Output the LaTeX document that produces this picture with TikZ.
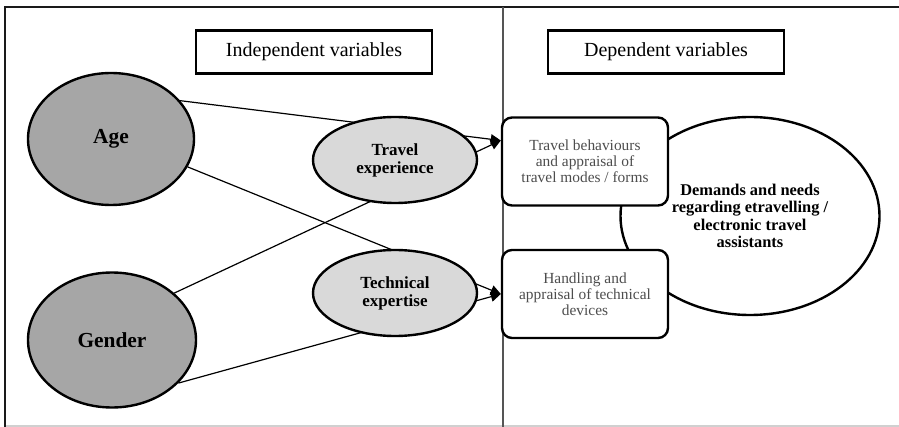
\documentclass[tikz,border=0pt]{standalone}
\usepackage{fontspec}
\setmainfont{Liberation Serif}
\usetikzlibrary{arrows.meta,shapes.geometric,backgrounds}
\definecolor{FrameLine}{HTML}{1A1A1A}
\definecolor{DivLine}{HTML}{555555}
\definecolor{BaseLine}{HTML}{D0D0D0}
\definecolor{DarkFill}{HTML}{A6A6A6}
\definecolor{PaleFill}{HTML}{D9D9D9}
\definecolor{BoxText}{HTML}{4D4D4D}

\begin{document}
\begin{tikzpicture}[x=0.5pt,y=-0.5pt,>={Triangle[length=5pt,width=5pt]}]
  \tikzstyle{header}=[draw,line width=1.2pt,minimum width=118pt,
    minimum height=21.5pt,inner sep=0pt,font=\fontsize{10}{12}\selectfont]
  \tikzstyle{factor}=[ellipse,draw,line width=1.2pt,fill=DarkFill,
    inner sep=0pt,font=\fontsize{10.7}{12}\selectfont\bfseries]
  \tikzstyle{mediator}=[ellipse,draw,line width=1.2pt,fill=PaleFill,
    minimum width=82pt,minimum height=43pt,inner sep=0pt,align=center,
    font=\fontsize{8.5}{9}\selectfont\bfseries]
  \tikzstyle{outcome}=[draw,line width=1.2pt,rounded corners=5pt,fill=white,
    minimum width=83pt,minimum height=44pt,inner sep=0pt,align=center,
    text=BoxText,font=\fontsize{7.7}{8}\selectfont]
  \tikzstyle{link}=[line width=0.6pt]
  \useasboundingbox (0,0) rectangle (899,427);
  % frame and divider
  \draw[BaseLine,line width=0.6pt] (5,426) -- (899,426);
  \draw[FrameLine,line width=1.4pt] (5,427) -- (5,7) -- (899,7);
  \draw[DivLine,line width=1pt] (503,7) -- (503,427);
  % headers
  \node[header] (indep) at (314,52) {Independent variables};
  \node[header] (dep) at (666,52) {Dependent variables};
  % independent side
  \node[factor,minimum width=83pt,minimum height=66pt] (age) at (111,139) {Age};
  \node[factor,minimum width=84pt,minimum height=67.5pt] (gender) at (112,340) {Gender};
  \node[mediator] (travel) at (395,160) {Travel\\experience};
  \node[mediator] (tech) at (395,293) {Technical\\expertise};
  % dependent side
  \node[ellipse,draw,line width=1.2pt,fill=white,minimum width=129.5pt,
    minimum height=99pt,inner sep=0pt,align=center,
    font=\fontsize{8.2}{8.7}\selectfont\bfseries] (needs) at (750,216)
    {Demands and needs\\regarding etravelling /\\electronic travel\\assistants};
  \node[outcome] (behav) at (585,161.5) {Travel behaviours\\and appraisal of\\travel modes / forms};
  \node[outcome] (handling) at (585,294) {Handling and\\appraisal of technical\\devices};
  \coordinate (behavin) at ([yshift=10.5pt]behav.west);
  % connectors run behind the mediators
  \begin{scope}[on background layer]
    \draw[link,->] (age.29) -- (behavin);
    \draw[link,->] (gender.37) -- (behavin);
    \draw[link,->] (age.-20) -- (handling.west);
    \draw[link,->] (gender.-33) -- (handling.west);
  \end{scope}
\end{tikzpicture}
\end{document}
